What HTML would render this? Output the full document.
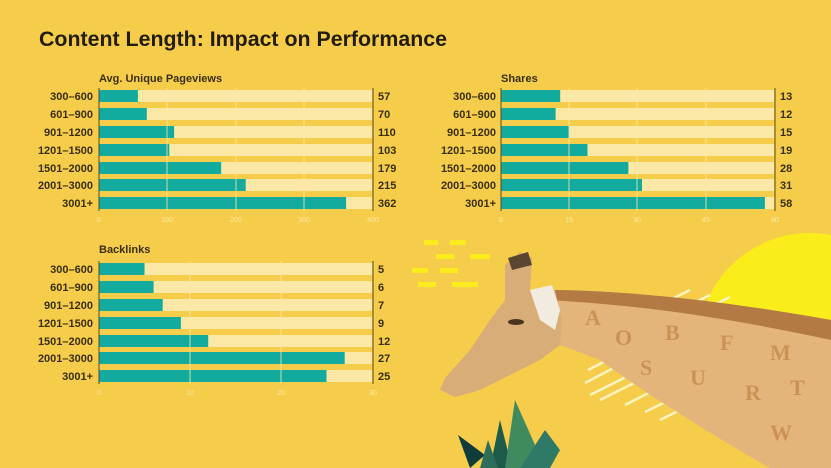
<!DOCTYPE html>
<html><head><meta charset="utf-8"><style>
html,body{margin:0;padding:0;background:#f5cd4a;}
svg{display:block;font-family:"Liberation Sans",sans-serif;}
.l{font-size:11px;font-weight:bold;fill:#3b2f12;text-anchor:end}
.v{font-size:11px;font-weight:bold;fill:#3b2f12}
.t{font-size:7px;fill:#fbeaa6;text-anchor:middle}
.h{font-size:11px;font-weight:bold;fill:#3b2f12}
.tr{fill:#fbe7a6}
.b{fill:#14ab9f}
</style></head><body>
<svg width="831" height="468" viewBox="0 0 831 468" xmlns="http://www.w3.org/2000/svg">
<rect width="831" height="468" fill="#f5cd4a"/>
<!-- sun -->
<circle cx="810" cy="345" r="112" fill="#fbec1c"/>
<!-- white stripes -->
<g stroke="#fdf3c0" stroke-width="2.5">
<line x1="660" y1="305" x2="690" y2="290"/><line x1="680" y1="310" x2="710" y2="295"/><line x1="700" y1="312" x2="730" y2="297"/><line x1="745" y1="325" x2="775" y2="312"/>
<line x1="588" y1="370" x2="615" y2="356"/><line x1="585" y1="383" x2="625" y2="362"/><line x1="590" y1="395" x2="640" y2="370"/><line x1="600" y1="400" x2="650" y2="375"/><line x1="625" y1="405" x2="670" y2="382"/><line x1="645" y1="412" x2="690" y2="390"/><line x1="660" y1="420" x2="700" y2="400"/>
</g>
<!-- yellow dashes -->
<g fill="#fbec1c">
<rect x="424" y="240" width="14" height="5"/><rect x="450" y="240" width="16" height="5"/>
<rect x="436" y="254" width="18" height="5"/><rect x="470" y="254" width="20" height="5"/>
<rect x="412" y="268" width="16" height="5"/><rect x="440" y="268" width="18" height="5"/>
<rect x="418" y="282" width="18" height="5"/><rect x="452" y="282" width="26" height="5"/>
</g>
<!-- giraffe neck -->
<path d="M548,290 C620,290 720,300 831,320 L831,468 L770,468 C720,440 640,390 600,360 L560,345 Z" fill="#e3b57a"/>
<g fill="#b8763a" opacity="0.55" font-family="Liberation Serif,serif" font-weight="bold" font-size="22">
<text x="585" y="325">A</text><text x="615" y="345">O</text><text x="665" y="340">B</text><text x="720" y="350">F</text><text x="770" y="360">M</text><text x="640" y="375">S</text><text x="690" y="385">U</text><text x="745" y="400">R</text><text x="790" y="395">T</text><text x="770" y="440">W</text>
</g>
<path d="M548,290 C620,290 720,300 831,320 L831,340 C730,318 640,305 548,300 Z" fill="#b37a43"/>
<!-- head -->
<path d="M505,265 L520,252 L532,258 L530,290 L555,290 L562,320 L560,345 L540,360 L510,375 L480,390 L455,397 L440,390 L445,378 L470,350 L490,320 L505,300 Z" fill="#d9ad78"/>
<path d="M530,290 L552,285 L560,310 L555,330 L540,320 Z" fill="#f1ecdf"/>
<path d="M508,258 L528,252 L532,265 L512,270 Z" fill="#5a4630"/>
<ellipse cx="516" cy="322" rx="8" ry="3" fill="#4a3420"/>
<!-- leaves -->
<g>
<path d="M470,468 L458,435 L485,455 Z" fill="#0f3b3a"/>
<path d="M490,468 L500,420 L512,468 Z" fill="#1d5a4a"/>
<path d="M505,468 L515,400 L535,445 L525,468 Z" fill="#3f8a5f"/>
<path d="M520,468 L545,430 L560,450 L550,468 Z" fill="#2f7a66"/>
<path d="M480,468 L488,440 L498,468 Z" fill="#2d6e5a"/>
</g>

<text x="39" y="46" font-size="21" font-weight="bold" fill="#231d0e" textLength="408" lengthAdjust="spacingAndGlyphs">Content Length: Impact on Performance</text>

<!-- Chart 1 -->
<text class="h" x="99" y="82">Avg. Unique Pageviews</text>
<g>
<rect class="tr" x="99" y="90" width="273" height="12"/><rect class="tr" x="99" y="108" width="273" height="12"/><rect class="tr" x="99" y="126" width="273" height="12"/><rect class="tr" x="99" y="144" width="273" height="12"/><rect class="tr" x="99" y="162" width="273" height="12"/><rect class="tr" x="99" y="179" width="273" height="12"/><rect class="tr" x="99" y="197" width="273" height="12"/>
<rect class="b" x="99" y="90" width="38.9" height="12"/><rect class="b" x="99" y="108" width="47.8" height="12"/><rect class="b" x="99" y="126" width="75.1" height="12"/><rect class="b" x="99" y="144" width="70.3" height="12"/><rect class="b" x="99" y="162" width="122.2" height="12"/><rect class="b" x="99" y="179" width="146.7" height="12"/><rect class="b" x="99" y="197" width="247.1" height="12"/>
<g stroke="#fbeaa6" stroke-width="1" opacity="0.8"><line x1="167" y1="88" x2="167" y2="211"/><line x1="236" y1="88" x2="236" y2="211"/><line x1="304" y1="88" x2="304" y2="211"/></g>
<line x1="99" y1="88" x2="99" y2="211" stroke="#5a4a20" stroke-width="1"/>
<line x1="373" y1="88" x2="373" y2="211" stroke="#5a4a20" stroke-width="1"/>
<text class="l" x="93" y="100">300–600</text><text class="l" x="93" y="118">601–900</text><text class="l" x="93" y="136">901–1200</text><text class="l" x="93" y="154">1201–1500</text><text class="l" x="93" y="172">1501–2000</text><text class="l" x="93" y="189">2001–3000</text><text class="l" x="93" y="207">3001+</text>
<text class="v" x="378" y="100">57</text><text class="v" x="378" y="118">70</text><text class="v" x="378" y="136">110</text><text class="v" x="378" y="154">103</text><text class="v" x="378" y="172">179</text><text class="v" x="378" y="189">215</text><text class="v" x="378" y="207">362</text>
<text class="t" x="99" y="222">0</text><text class="t" x="167" y="222">100</text><text class="t" x="236" y="222">200</text><text class="t" x="304" y="222">300</text><text class="t" x="373" y="222">400</text>
</g>

<!-- Chart 2 -->
<text class="h" x="501" y="82">Shares</text>
<g>
<rect class="tr" x="501" y="90" width="273" height="12"/><rect class="tr" x="501" y="108" width="273" height="12"/><rect class="tr" x="501" y="126" width="273" height="12"/><rect class="tr" x="501" y="144" width="273" height="12"/><rect class="tr" x="501" y="162" width="273" height="12"/><rect class="tr" x="501" y="179" width="273" height="12"/><rect class="tr" x="501" y="197" width="273" height="12"/>
<rect class="b" x="501" y="90" width="59.2" height="12"/><rect class="b" x="501" y="108" width="54.6" height="12"/><rect class="b" x="501" y="126" width="68.3" height="12"/><rect class="b" x="501" y="144" width="86.5" height="12"/><rect class="b" x="501" y="162" width="127.4" height="12"/><rect class="b" x="501" y="179" width="141" height="12"/><rect class="b" x="501" y="197" width="263.9" height="12"/>
<g stroke="#fbeaa6" stroke-width="1" opacity="0.8"><line x1="569" y1="88" x2="569" y2="211"/><line x1="637" y1="88" x2="637" y2="211"/><line x1="706" y1="88" x2="706" y2="211"/></g>
<line x1="501" y1="88" x2="501" y2="211" stroke="#5a4a20" stroke-width="1"/>
<line x1="775" y1="88" x2="775" y2="211" stroke="#5a4a20" stroke-width="1"/>
<text class="l" x="496" y="100">300–600</text><text class="l" x="496" y="118">601–900</text><text class="l" x="496" y="136">901–1200</text><text class="l" x="496" y="154">1201–1500</text><text class="l" x="496" y="172">1501–2000</text><text class="l" x="496" y="189">2001–3000</text><text class="l" x="496" y="207">3001+</text>
<text class="v" x="780" y="100">13</text><text class="v" x="780" y="118">12</text><text class="v" x="780" y="136">15</text><text class="v" x="780" y="154">19</text><text class="v" x="780" y="172">28</text><text class="v" x="780" y="189">31</text><text class="v" x="780" y="207">58</text>
<text class="t" x="501" y="222">0</text><text class="t" x="569" y="222">15</text><text class="t" x="637" y="222">30</text><text class="t" x="706" y="222">45</text><text class="t" x="775" y="222">60</text>
</g>

<!-- Chart 3 -->
<text class="h" x="99" y="253">Backlinks</text>
<g>
<rect class="tr" x="99" y="263" width="273" height="12"/><rect class="tr" x="99" y="281" width="273" height="12"/><rect class="tr" x="99" y="299" width="273" height="12"/><rect class="tr" x="99" y="317" width="273" height="12"/><rect class="tr" x="99" y="335" width="273" height="12"/><rect class="tr" x="99" y="352" width="273" height="12"/><rect class="tr" x="99" y="370" width="273" height="12"/>
<rect class="b" x="99" y="263" width="45.5" height="12"/><rect class="b" x="99" y="281" width="54.6" height="12"/><rect class="b" x="99" y="299" width="63.7" height="12"/><rect class="b" x="99" y="317" width="81.9" height="12"/><rect class="b" x="99" y="335" width="109.2" height="12"/><rect class="b" x="99" y="352" width="245.7" height="12"/><rect class="b" x="99" y="370" width="227.5" height="12"/>
<g stroke="#fbeaa6" stroke-width="1" opacity="0.8"><line x1="190" y1="261" x2="190" y2="384"/><line x1="281" y1="261" x2="281" y2="384"/></g>
<line x1="99" y1="261" x2="99" y2="384" stroke="#5a4a20" stroke-width="1"/>
<line x1="373" y1="261" x2="373" y2="384" stroke="#5a4a20" stroke-width="1"/>
<text class="l" x="93" y="273">300–600</text><text class="l" x="93" y="291">601–900</text><text class="l" x="93" y="309">901–1200</text><text class="l" x="93" y="327">1201–1500</text><text class="l" x="93" y="345">1501–2000</text><text class="l" x="93" y="362">2001–3000</text><text class="l" x="93" y="380">3001+</text>
<text class="v" x="378" y="273">5</text><text class="v" x="378" y="291">6</text><text class="v" x="378" y="309">7</text><text class="v" x="378" y="327">9</text><text class="v" x="378" y="345">12</text><text class="v" x="378" y="362">27</text><text class="v" x="378" y="380">25</text>
<text class="t" x="99" y="395">0</text><text class="t" x="190" y="395">10</text><text class="t" x="281" y="395">20</text><text class="t" x="373" y="395">30</text>
</g>
</svg>
</body></html>
